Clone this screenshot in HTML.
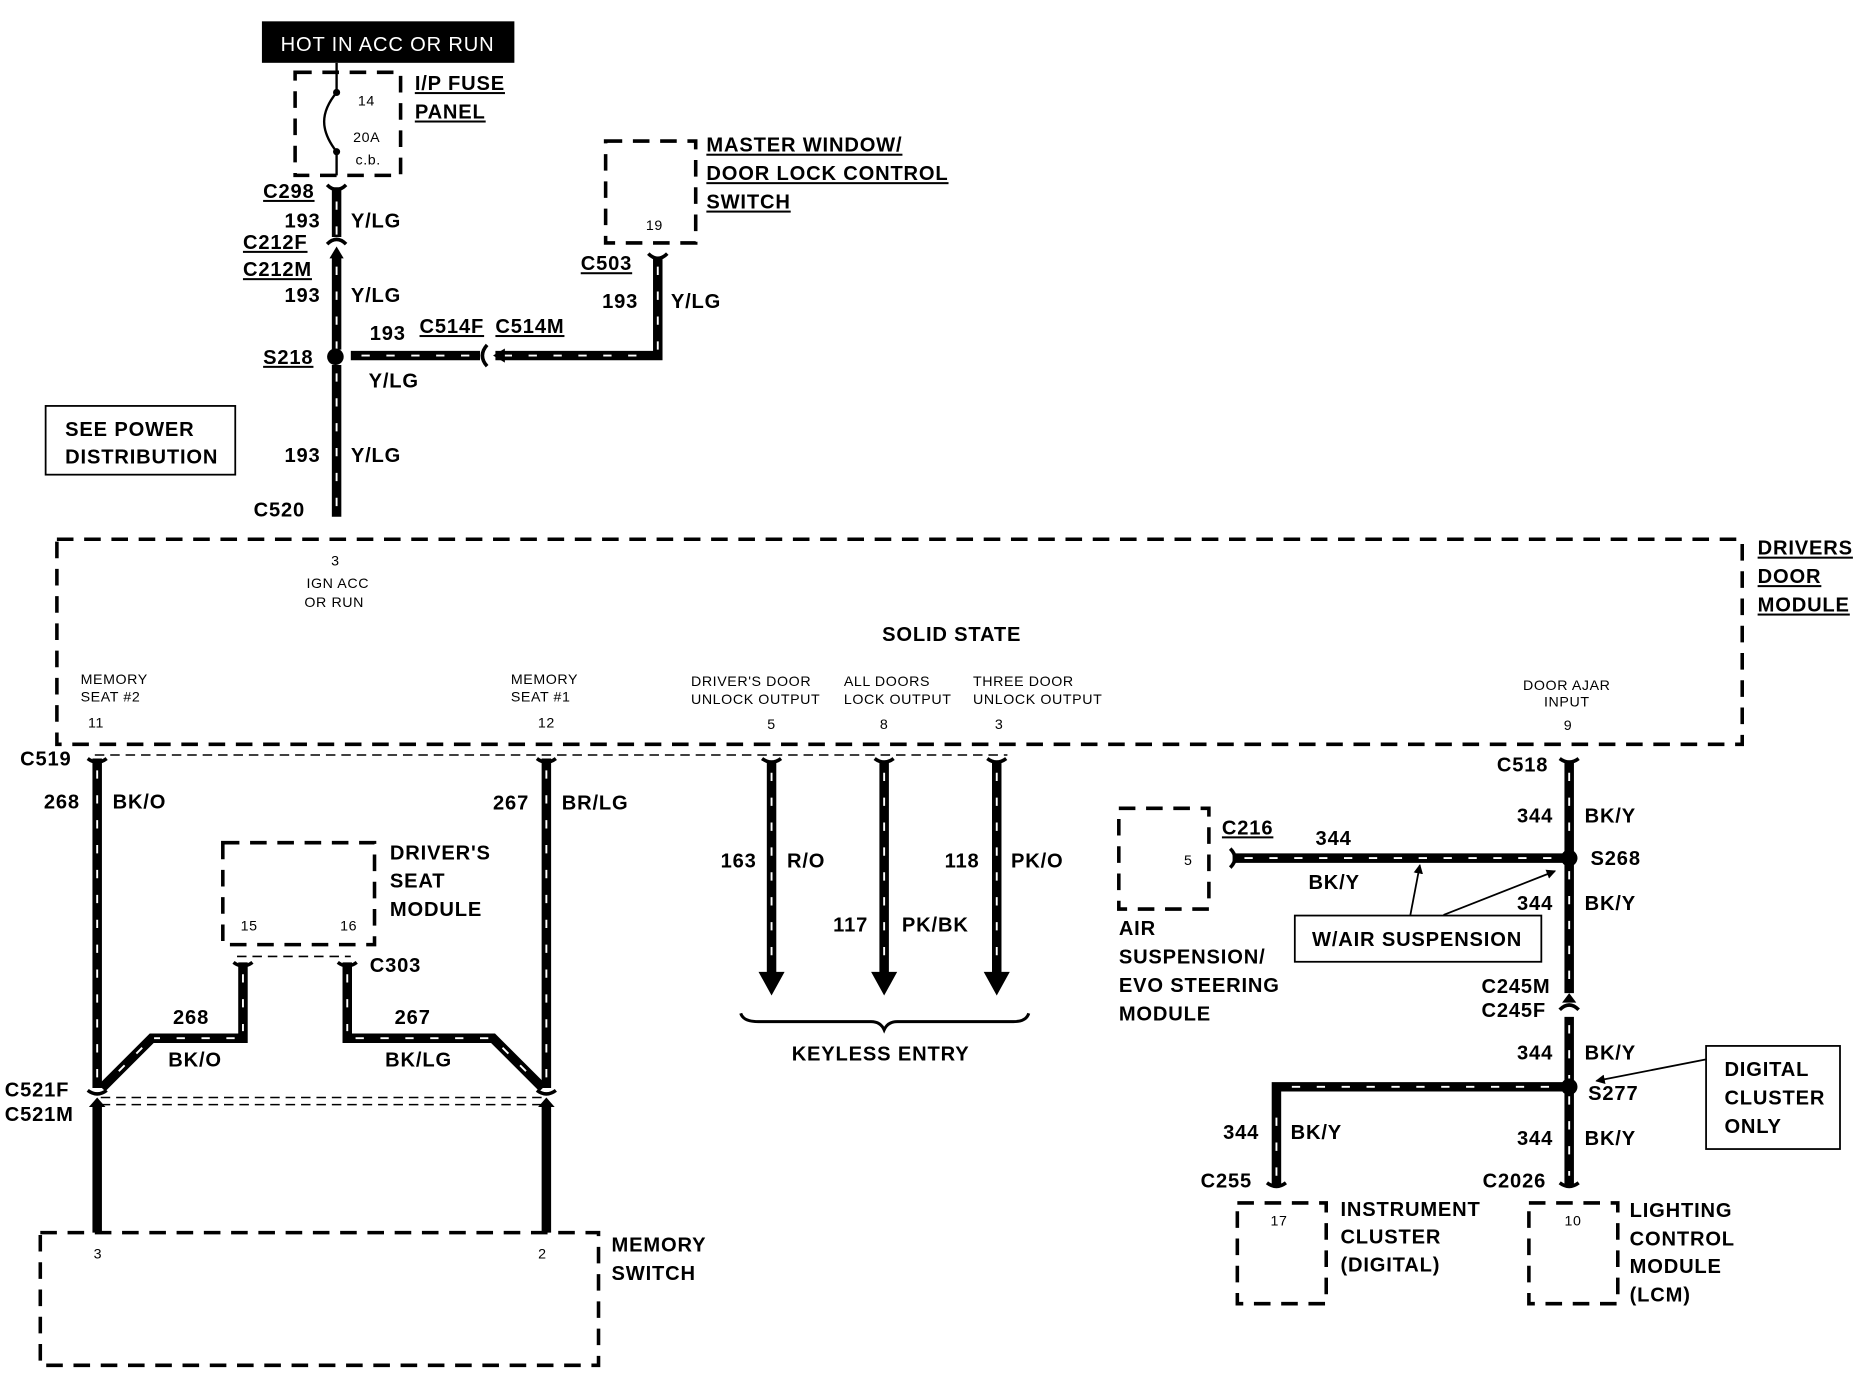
<!DOCTYPE html>
<html><head><meta charset="utf-8"><style>
html,body{margin:0;padding:0;background:#fff;}
svg{display:block}
text{font-family:"Liberation Sans",Arial,sans-serif;font-weight:bold;font-size:17px;fill:#000;letter-spacing:0.7px}
.s{font-weight:normal;font-size:12px;letter-spacing:0.5px}
.u{text-decoration:underline}
.w{fill:none;stroke:#000;stroke-width:8}
.wd{fill:none;stroke:#fff;stroke-width:1.6;stroke-dasharray:7 14}
.db{fill:none;stroke:#000;stroke-width:3;stroke-dasharray:14 9}
.tl{fill:none;stroke:#000;stroke-width:1.3;stroke-dasharray:8 5}
</style></head><body>
<svg width="1856" height="1376" viewBox="0 0 1566 1161" preserveAspectRatio="none" xmlns="http://www.w3.org/2000/svg">
<defs>
<marker id="ah" markerWidth="8" markerHeight="8" refX="7" refY="4" orient="auto" markerUnits="userSpaceOnUse"><path d="M0,0 L8,4 L0,8z" fill="#000"/></marker>
</defs>
<rect x="221" y="18" width="213" height="35" fill="#000"/>
<text x="327" y="43" text-anchor="middle" style="fill:#fff;font-weight:normal;font-size:17px">HOT IN ACC OR RUN</text>
<rect x="249" y="61" width="89" height="87" class="db"/>
<path d="M284,53 L284,78 M284,78 C270,95 270,110 284,128 M284,128 L284,148" stroke="#000" stroke-width="2" fill="none"/>
<circle cx="284" cy="78" r="3"/><circle cx="284" cy="128" r="3"/>
<text class="s" x="302" y="89">14</text><text class="s" x="298" y="120">20A</text><text class="s" x="300" y="139">c.b.</text>
<text class="u" x="350" y="76">I/P FUSE</text><text class="u" x="350" y="100">PANEL</text>
<path class="w" d="M284,158 L284,200 M284,215 L284,295 M284,308 L284,436"/>
<path class="wd" d="M284,170 L284,200 M284,225 L284,295 M284,315 L284,430"/>
<path d="M276,156 Q284,164 292,156 M276,206 Q284,198 292,206" stroke="#000" stroke-width="3" fill="none"/>
<path d="M278,218 L284,208 L290,218z" fill="#000"/>
<circle cx="283" cy="301" r="7"/>
<text class="u" x="222" y="167">C298</text>
<text x="240" y="192">193</text><text x="296" y="192">Y/LG</text>
<text class="u" x="205" y="210">C212F</text><text class="u" x="205" y="233">C212M</text>
<text x="240" y="255">193</text><text x="296" y="255">Y/LG</text>
<text class="u" x="222" y="307">S218</text>
<text x="311" y="327">Y/LG</text>
<text x="240" y="390">193</text><text x="296" y="390">Y/LG</text>
<text x="214" y="436">C520</text>
<path class="w" d="M296,300 L405,300 M418,300 L555,300 L555,218"/>
<path class="wd" d="M305,300 L400,300 M425,300 L550,300 M555,295 L555,225"/>
<path d="M411,291 Q403,300 411,309" stroke="#000" stroke-width="3" fill="none"/>
<path d="M426,294 L416,300 L426,306z" fill="#000"/>
<path d="M547,214 Q555,222 563,214" stroke="#000" stroke-width="3" fill="none"/>
<text x="312" y="287">193</text>
<text class="u" x="354" y="281">C514F</text><text class="u" x="418" y="281">C514M</text>
<text class="u" x="490" y="228">C503</text>
<text x="508" y="260">193</text><text x="566" y="260">Y/LG</text>
<rect x="511" y="119" width="76" height="86" class="db"/>
<text class="s" x="545" y="194">19</text>
<text class="u" x="596" y="128">MASTER WINDOW/</text><text class="u" x="596" y="152">DOOR LOCK CONTROL</text><text class="u" x="596" y="176">SWITCH</text>
<rect x="38.5" y="342.5" width="160" height="58" fill="none" stroke="#000" stroke-width="1.5"/>
<text x="55" y="368">SEE POWER</text><text x="55" y="391">DISTRIBUTION</text>
<rect x="48" y="455" width="1422" height="173" class="db"/>
<text class="u" x="1483" y="468">DRIVERS</text><text class="u" x="1483" y="492">DOOR</text><text class="u" x="1483" y="516">MODULE</text>
<text class="s" x="283" y="477" text-anchor="middle">3</text>
<text class="s" x="285" y="496" text-anchor="middle">IGN  ACC</text>
<text class="s" x="282" y="512" text-anchor="middle">OR RUN</text>
<text x="803" y="541" text-anchor="middle">SOLID STATE</text>
<text class="s" x="68" y="577">MEMORY</text><text class="s" x="68" y="592">SEAT #2</text><text class="s" x="81" y="614" text-anchor="middle">11</text>
<text class="s" x="431" y="577">MEMORY</text><text class="s" x="431" y="592">SEAT #1</text><text class="s" x="461" y="614" text-anchor="middle">12</text>
<text class="s" x="583" y="579">DRIVER'S DOOR</text><text class="s" x="583" y="594">UNLOCK OUTPUT</text><text class="s" x="651" y="615" text-anchor="middle">5</text>
<text class="s" x="712" y="579">ALL DOORS</text><text class="s" x="712" y="594">LOCK OUTPUT</text><text class="s" x="746" y="615" text-anchor="middle">8</text>
<text class="s" x="821" y="579">THREE DOOR</text><text class="s" x="821" y="594">UNLOCK OUTPUT</text><text class="s" x="843" y="615" text-anchor="middle">3</text>
<text class="s" x="1322" y="582" text-anchor="middle">DOOR AJAR</text><text class="s" x="1322" y="596" text-anchor="middle">INPUT</text><text class="s" x="1323" y="616" text-anchor="middle">9</text>
<line x1="80" y1="637" x2="850" y2="637" class="tl"/>
<path class="w" d="M82,640 L82,918 M461,640 L461,918"/>
<path class="wd" d="M82,650 L82,910 M461,650 L461,910"/>
<path d="M74,640 Q82,646 90,640 M453,640 Q461,646 469,640 M643,640 Q651,646 659,640 M738,640 Q746,646 754,640 M833,640 Q841,646 849,640 M1316,640 Q1324,646 1332,640" stroke="#000" stroke-width="3" fill="none"/>
<text x="17" y="646">C519</text>
<text x="37" y="682">268</text><text x="95" y="682">BK/O</text>
<text x="416" y="683">267</text><text x="474" y="683">BR/LG</text>
<rect x="188" y="711" width="128" height="86" class="db"/>
<text class="s" x="203" y="785">15</text><text class="s" x="287" y="785">16</text>
<text x="329" y="725">DRIVER'S</text><text x="329" y="749">SEAT</text><text x="329" y="773">MODULE</text>
<line x1="200" y1="807" x2="296" y2="807" class="tl"/>
<text x="312" y="820">C303</text>
<path class="w" d="M205,812 L205,876 L128,876 L86,918 M293,812 L293,876 L416,876 L458,918"/>
<path class="wd" d="M205,822 L205,870 M198,876 L130,876 M293,822 L293,870 M300,876 L414,876 M120,884 L92,912 M424,884 L452,912"/>
<path d="M197,812 Q205,818 213,812 M285,812 Q293,818 301,812" stroke="#000" stroke-width="3" fill="none"/>
<text x="146" y="864">268</text><text x="142" y="900">BK/O</text>
<text x="333" y="864">267</text><text x="325" y="900">BK/LG</text>
<text x="4" y="925">C521F</text><text x="4" y="946">C521M</text>
<path d="M74,920 Q82,926 90,920 M453,920 Q461,926 469,920" stroke="#000" stroke-width="3" fill="none"/>
<path d="M75,934 L82,926 L89,934z M454,934 L461,926 L468,934z" fill="#000"/>
<line x1="85" y1="926" x2="458" y2="926" class="tl"/><line x1="85" y1="932" x2="458" y2="932" class="tl"/>
<path class="w" d="M82,934 L82,1040 M461,934 L461,1040"/>
<rect x="34" y="1040" width="471" height="112" class="db"/>
<text class="s" x="79" y="1062">3</text><text class="s" x="454" y="1062">2</text>
<text x="516" y="1056">MEMORY</text><text x="516" y="1080">SWITCH</text>
<path class="w" d="M651,642 L651,822 M746,642 L746,822 M841,642 L841,822"/>
<path class="wd" d="M651,652 L651,815 M746,652 L746,815 M841,652 L841,815"/>
<path d="M640,820 L662,820 L651,840z M735,820 L757,820 L746,840z M830,820 L852,820 L841,840z" fill="#000"/>
<text x="608" y="732">163</text><text x="664" y="732">R/O</text>
<text x="703" y="786">117</text><text x="761" y="786">PK/BK</text>
<text x="797" y="732">118</text><text x="853" y="732">PK/O</text>
<path d="M625,855 Q627,862 640,862 L735,862 Q743,862 746,869 Q749,862 757,862 L855,862 Q866,862 868,855" stroke="#000" stroke-width="2.5" fill="none"/>
<text x="743" y="895" text-anchor="middle">KEYLESS ENTRY</text>
<path class="w" d="M1324,642 L1324,838 M1324,858 L1324,1000 M1040,724 L1324,724 M1077,1000 L1077,917 L1324,917"/>
<path class="wd" d="M1324,652 L1324,715 M1324,735 L1324,832 M1324,865 L1324,910 M1324,925 L1324,992 M1050,724 L1315,724 M1077,992 L1077,930 M1090,917 L1312,917"/>
<path d="M1318,846 L1324,838 L1330,846z" fill="#000"/>
<path d="M1316,852 Q1324,844 1332,852 M1316,998 Q1324,1004 1332,998 M1069,998 Q1077,1004 1085,998 M1038,716 Q1046,724 1038,732" stroke="#000" stroke-width="3" fill="none"/>
<circle cx="1324" cy="724" r="7"/><circle cx="1324" cy="917" r="7"/>
<text x="1263" y="651">C518</text>
<text x="1280" y="694">344</text><text x="1337" y="694">BK/Y</text>
<text x="1342" y="730">S268</text>
<text class="u" x="1031" y="704">C216</text>
<text x="1110" y="713">344</text><text x="1104" y="750">BK/Y</text>
<rect x="944" y="682" width="76" height="85" class="db"/>
<text class="s" x="999" y="730">5</text>
<text x="944" y="789">AIR</text><text x="944" y="813">SUSPENSION/</text><text x="944" y="837">EVO STEERING</text><text x="944" y="861">MODULE</text>
<text x="1280" y="768">344</text><text x="1337" y="768">BK/Y</text>
<rect x="1092.5" y="772.5" width="208" height="39" fill="none" stroke="#000" stroke-width="1.5"/>
<text x="1107" y="798">W/AIR SUSPENSION</text>
<line x1="1190" y1="772" x2="1198" y2="730" stroke="#000" stroke-width="1.5" marker-end="url(#ah)"/>
<line x1="1218" y1="772" x2="1312" y2="735" stroke="#000" stroke-width="1.5" marker-end="url(#ah)"/>
<text x="1250" y="838">C245M</text><text x="1250" y="858">C245F</text>
<text x="1280" y="894">344</text><text x="1337" y="894">BK/Y</text>
<text x="1340" y="928">S277</text>
<rect x="1439.5" y="882.5" width="113" height="87" fill="none" stroke="#000" stroke-width="1.5"/>
<text x="1455" y="908">DIGITAL</text><text x="1455" y="932">CLUSTER</text><text x="1455" y="956">ONLY</text>
<line x1="1439" y1="894" x2="1347" y2="912" stroke="#000" stroke-width="1.5" marker-end="url(#ah)"/>
<text x="1032" y="961">344</text><text x="1089" y="961">BK/Y</text>
<text x="1280" y="966">344</text><text x="1337" y="966">BK/Y</text>
<text x="1013" y="1002">C255</text><text x="1251" y="1002">C2026</text>
<rect x="1044" y="1015" width="75" height="85" class="db"/>
<text class="s" x="1072" y="1034">17</text>
<text x="1131" y="1026">INSTRUMENT</text><text x="1131" y="1049">CLUSTER</text><text x="1131" y="1073">(DIGITAL)</text>
<rect x="1290" y="1015" width="75" height="85" class="db"/>
<text class="s" x="1320" y="1034">10</text>
<text x="1375" y="1027">LIGHTING</text><text x="1375" y="1051">CONTROL</text><text x="1375" y="1074">MODULE</text><text x="1375" y="1098">(LCM)</text>
</svg>
</body></html>
